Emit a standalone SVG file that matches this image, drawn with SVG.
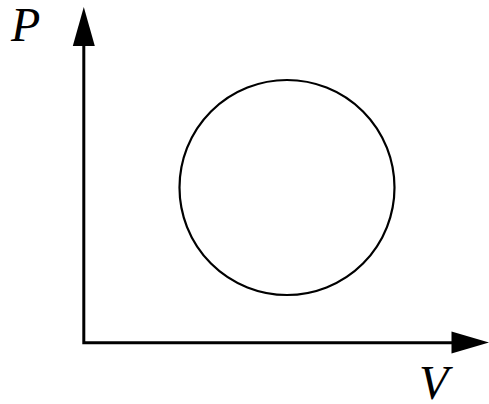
<svg xmlns="http://www.w3.org/2000/svg" width="489" height="404" viewBox="0 0 489 404">
<style>
.ax{stroke:#000;stroke-width:3;fill:none}
.lbl{font-family:"Liberation Serif","Times New Roman",serif;font-style:italic;font-size:48px;fill:#000}
</style>
<rect width="489" height="404" fill="#fff"/>
<g id="axes">
<path class="ax" d="M83.8,44 V342.7 H452"/>
<polygon points="83.8,7 72.8,46 94.8,46" fill="#000"/>
<polygon points="489,342.5 451.5,331.5 451.5,353.5" fill="#000"/>
</g>
<g id="cycle">
<circle cx="287" cy="187.5" r="107.5" fill="none" stroke="#000" stroke-width="2.2"/>
</g>
<g id="labels">
<text class="lbl" x="11" y="41">P</text>
<text class="lbl" x="419" y="399">V</text>
</g>
</svg>
